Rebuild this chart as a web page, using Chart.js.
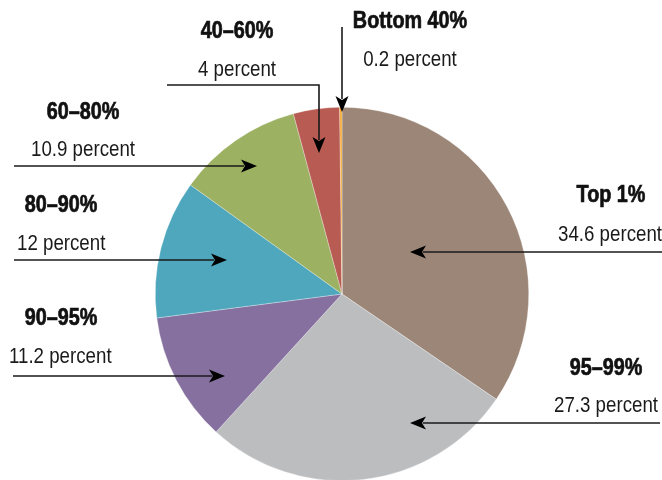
<!DOCTYPE html>
<html>
<head>
<meta charset="utf-8">
<script src="https://cdn.jsdelivr.net/npm/chart.js@4/dist/chart.umd.min.js"></script>
<style>
  html, body { margin: 0; padding: 0; background: #fff; overflow: hidden; width: 662px; height: 480px; }
  #wrap { width: 662px; height: 490px; position: relative; }
</style>
</head>
<body>
<div id="wrap"><canvas id="c" width="662" height="490"></canvas></div>
<script>
// Data
const categories = ["Top 1%", "95–99%", "90–95%", "80–90%", "60–80%", "40–60%", "Bottom 40%"];
const shares = [34.6, 27.3, 11.2, 12, 10.9, 4, 0.2];
const valueLabels = ["34.6 percent", "27.3 percent", "11.2 percent", "12 percent", "10.9 percent", "4 percent", "0.2 percent"];
const colors = ["#9c8677", "#bcbdbf", "#86709f", "#4fa7bd", "#9cb161", "#b85b53", "#f5a833"];

// Annotation layout (label text positions and callout arrows)
const annotations = [
  { i: 0, align: "center", x: 611, yTitle: 202, yValue: 241, valueX: 610, path: [[662, 252], [410, 252]] },
  { i: 1, align: "center", x: 606, yTitle: 375, yValue: 412, path: [[660, 423], [410, 423]] },
  { i: 2, align: "center", x: 61,  yTitle: 325, yValue: 363, path: [[13, 376], [225, 376]], valueAlign: "left", valueX: 9 },
  { i: 3, align: "center", x: 61,  yTitle: 212, yValue: 250, path: [[14, 260], [227, 260]], valueAlign: "left", valueX: 17 },
  { i: 4, align: "center", x: 83,  yTitle: 119, yValue: 156, path: [[14, 166], [257, 166]] },
  { i: 5, align: "center", x: 237, yTitle: 38,  yValue: 76,  path: [[167, 85], [319, 85], [319, 153]] },
  { i: 6, align: "center", x: 410, yTitle: 28,  yValue: 66,  path: [[342, 27], [342, 112]] }
];

const FONT = '"Liberation Sans", Arial, sans-serif';

function condensedText(ctx, text, x, y, align, sx, heavy) {
  ctx.save();
  ctx.translate(x, y);
  ctx.scale(sx, 1);
  ctx.textAlign = align;
  ctx.fillText(text, 0, 0);
  if (heavy) {
    ctx.lineWidth = 0.7;
    ctx.strokeStyle = ctx.fillStyle;
    ctx.strokeText(text, 0, 0);
  }
  ctx.restore();
}

const calloutPlugin = {
  id: "callouts",
  afterDraw(chart) {
    const ctx = chart.ctx;
    ctx.save();
    ctx.textBaseline = "alphabetic";
    annotations.forEach(a => {
      ctx.fillStyle = "#111111";
      ctx.font = "bold 23px " + FONT;
      condensedText(ctx, categories[a.i], a.x, a.yTitle, a.align, 0.86, true);
      ctx.fillStyle = "#1a1a1a";
      ctx.font = "22px " + FONT;
      condensedText(ctx, valueLabels[a.i], a.valueX !== undefined ? a.valueX : a.x, a.yValue, a.valueAlign || a.align, 0.85, false);
      // line
      ctx.strokeStyle = "#1a1a1a";
      ctx.lineWidth = 1.6;
      const p = a.path;
      const n = p.length;
      const tip = p[n - 1], prev = p[n - 2];
      const ang = Math.atan2(tip[1] - prev[1], tip[0] - prev[0]);
      const headLen = 16, headW = 6.5;
      ctx.beginPath();
      ctx.moveTo(p[0][0], p[0][1]);
      for (let k = 1; k < n - 1; k++) ctx.lineTo(p[k][0], p[k][1]);
      ctx.lineTo(tip[0] - Math.cos(ang) * (headLen - 3), tip[1] - Math.sin(ang) * (headLen - 3));
      ctx.stroke();
      // arrowhead
      const bx = tip[0] - Math.cos(ang) * headLen, by = tip[1] - Math.sin(ang) * headLen;
      const nx = -Math.sin(ang), ny = Math.cos(ang);
      ctx.beginPath();
      ctx.moveTo(tip[0], tip[1]);
      ctx.lineTo(bx + nx * headW, by + ny * headW);
      ctx.lineTo(tip[0] - Math.cos(ang) * (headLen - 4), tip[1] - Math.sin(ang) * (headLen - 4));
      ctx.lineTo(bx - nx * headW, by - ny * headW);
      ctx.closePath();
      ctx.fillStyle = "#000";
      ctx.fill();
    });
    ctx.restore();
  }
};

new Chart(document.getElementById("c"), {
  type: "pie",
  data: {
    labels: categories,
    datasets: [{
      data: shares,
      backgroundColor: colors,
      borderColor: "rgba(255,255,255,0.6)",
      borderWidth: 0.5
    }]
  },
  options: {
    responsive: false,
    animation: false,
    layout: { padding: { top: 107, bottom: 9, left: 155, right: 133 } },
    plugins: { legend: { display: false }, tooltip: { enabled: false } }
  },
  plugins: [calloutPlugin]
});
</script>
</body>
</html>
